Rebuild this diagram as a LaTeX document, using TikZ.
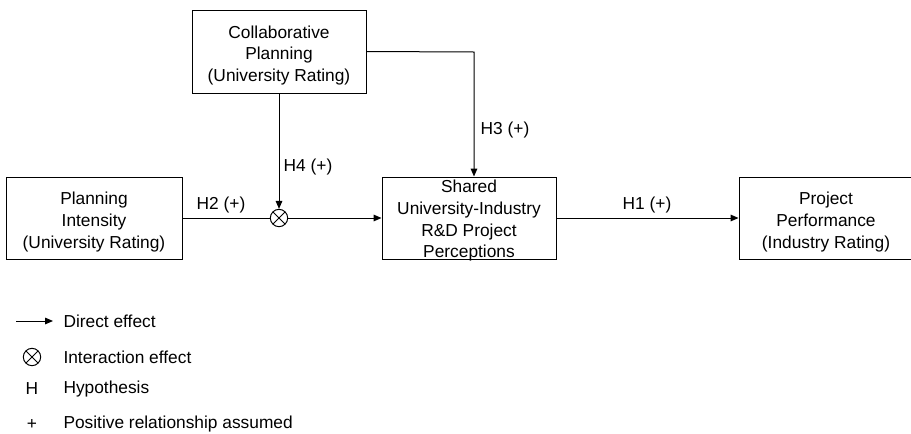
\documentclass[tikz,border=0pt]{standalone}
\usepackage{fontspec}
\setmainfont{Liberation Sans}
\usetikzlibrary{arrows.meta}
\begin{document}
\begin{tikzpicture}[x=0.75pt,y=-0.75pt,
	font=\fontsize{13}{16.4}\selectfont,
	line width=0.75pt,
	>={Triangle[length=6pt,width=5pt]},
	box/.style={draw,rectangle,inner sep=0pt,minimum width=130.5pt,minimum height=61.5pt},
	boxtext/.style={align=center,inner sep=0pt,yshift=-3pt},
	hyp/.style={inner sep=0pt},
	mult/.style={draw,circle,inner sep=0pt,minimum size=13pt,
		path picture={\draw (path picture bounding box.north west) -- (path picture bounding box.south east)
			(path picture bounding box.north east) -- (path picture bounding box.south west);}},
	legtext/.style={anchor=west,inner sep=0pt}]

	\useasboundingbox (0,0) rectangle (911,433);

	% Konstrukter
	\node [box,minimum width=132pt,label={[boxtext]center:{Planning\\Intensity\\(University Rating)}}] (intens) at (94,218) {};
	\node [box,minimum height=62.25pt,label={[boxtext]center:{Collaborative\\Planning\\(University Rating)}}] (collab) at (279,51.5) {};
	\node [box,label={[boxtext,yshift=1pt]center:{Shared\\University-Industry\\R\&D Project\\Perceptions}}] (shared) at (469,218) {};
	\node [box,label={[boxtext]center:{Project\\Performance\\(Industry Rating)}}] (perf) at (826,218) {};

	% Interaksjon
	\node [mult] (inter) at (279,218) {};

	% Piler
	\draw (intens.east) -- (inter.west);
	\draw [->] (inter.east) -- (shared.west);
	\draw [->] (collab.south) -- (inter.north);
	\coordinate (knekk) at (474,52);
	\draw [->] (collab.east) -- (knekk) -- (knekk |- shared.north);
	\draw [->] (shared.east) -- (perf.west);

	% Hypoteser
	\node [hyp] (h1) at (647,205) {H1 (+)};
	\node [hyp] (h2) at (221,205) {H2 (+)};
	\node [hyp] (h3) at (505,130) {H3 (+)};
	\node [hyp] (h4) at (308,167) {H4 (+)};

	% Forklaring
	\coordinate (lpil) at (16,321);
	\node [legtext] (ldirect) at (63,321) {Direct effect};
	\draw [->] (lpil) -- ([xshift=-7.5pt]ldirect.west);
	\node [mult] (lmult) at (32,357) {};
	\node [legtext] (linter) at (63,357) {Interaction effect};
	\node (lh) at (32,389) {H};
	\node [legtext] (lhyp) at (63,389) {Hypothesis};
	\node (lplus) at (32,424) {+};
	\node [legtext] (lpos) at (63,424) {Positive relationship assumed};

\end{tikzpicture}
\end{document}
